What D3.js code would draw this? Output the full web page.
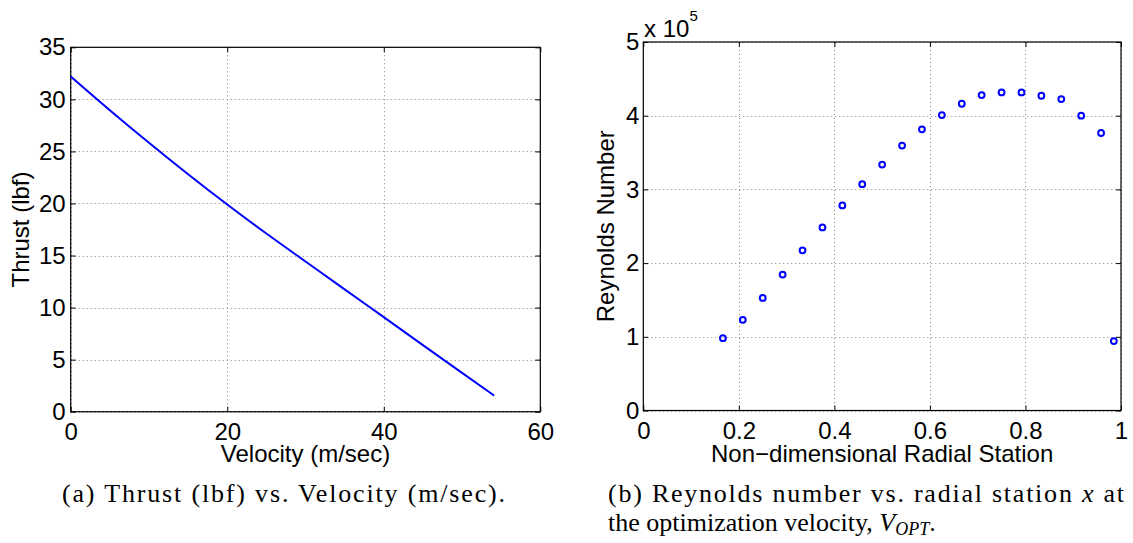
<!DOCTYPE html>
<html>
<head>
<meta charset="utf-8">
<script src="https://cdn.jsdelivr.net/npm/d3@7"></script>
<style>
  html, body { margin: 0; padding: 0; background: #fff; }
  svg { display: block; }
  .tick text { font-family: "Liberation Sans", Arial, sans-serif; font-size: 24px; fill: #000; }
  .lab { font-family: "Liberation Sans", Arial, sans-serif; font-size: 24px; fill: #000; }
  .cap { font-family: "Liberation Serif", "Times New Roman", serif; font-size: 26px; fill: #000; }
</style>
</head>
<body>
<script>
// ---- Data ----
const thrustVelocity = [0, 5, 10, 15, 20, 25, 30, 35, 40, 45, 50, 54.1];
const thrustLbf = [32.2, 28.96, 25.83, 22.81, 19.9, 17.11, 14.43, 11.75, 9.08, 6.4, 3.73, 1.55];

const radialStation = [0.1667, 0.2083, 0.25, 0.2917, 0.3333, 0.375, 0.4167, 0.4583, 0.5, 0.5417,
  0.5833, 0.625, 0.6667, 0.7083, 0.75, 0.7917, 0.8333, 0.875, 0.9167, 0.9583, 0.985];
const reynoldsNumber = [0.982e5, 1.230e5, 1.528e5, 1.844e5, 2.173e5, 2.484e5, 2.782e5, 3.071e5, 3.337e5, 3.594e5,
  3.815e5, 4.009e5, 4.162e5, 4.280e5, 4.316e5, 4.316e5, 4.271e5, 4.226e5, 4.0e5, 3.765e5, 0.942e5];

const thrustXTicks = [0, 20, 40, 60];
const thrustYTicks = [0, 5, 10, 15, 20, 25, 30, 35];
const reXTicks = [0, 0.2, 0.4, 0.6, 0.8, 1];
const reYTicks = [0, 1e5, 2e5, 3e5, 4e5, 5e5];

const W = 1133, H = 543;
const svg = d3.select("body").append("svg").attr("width", W).attr("height", H);
svg.append("rect").attr("width", W).attr("height", H).attr("fill", "#fff");

function panel(opt) {
  const x = d3.scaleLinear().domain(opt.xDomain).range([opt.left, opt.right]);
  const y = d3.scaleLinear().domain(opt.yDomain).range([opt.bottom, opt.top]);
  const g = svg.append("g");
  // grid
  const grid = g.append("g").attr("stroke", "#808080").attr("stroke-width", 1).attr("stroke-dasharray", "1,3");
  grid.selectAll(".gx").data(opt.xTicks).join("line")
    .attr("x1", d => Math.round(x(d)) + 0.5).attr("x2", d => Math.round(x(d)) + 0.5)
    .attr("y1", opt.top).attr("y2", opt.bottom);
  grid.selectAll(".gy").data(opt.yTicks).join("line")
    .attr("y1", d => Math.round(y(d)) + 0.5).attr("y2", d => Math.round(y(d)) + 0.5)
    .attr("x1", opt.left).attr("x2", opt.right);
  // axes
  const tk = 5;
  const bottomAx = g.append("g").attr("transform", `translate(0,${opt.bottom})`)
    .call(d3.axisBottom(x).tickValues(opt.xTicks).tickFormat(opt.xFormat).tickSizeInner(-tk).tickSizeOuter(0).tickPadding(11));
  const topAx = g.append("g").attr("transform", `translate(0,${opt.top})`)
    .call(d3.axisTop(x).tickValues(opt.xTicks).tickFormat("").tickSizeInner(-tk).tickSizeOuter(0));
  const leftAx = g.append("g").attr("transform", `translate(${opt.left},0)`)
    .call(d3.axisLeft(y).tickValues(opt.yTicks).tickFormat(opt.yFormat).tickSizeInner(-tk).tickSizeOuter(0).tickPadding(opt.yPad));
  const rightAx = g.append("g").attr("transform", `translate(${opt.right},0)`)
    .call(d3.axisRight(y).tickValues(opt.yTicks).tickFormat("").tickSizeInner(-tk).tickSizeOuter(0));
  [bottomAx, topAx, leftAx, rightAx].forEach(a => {
    a.select(".domain").remove();
    a.selectAll(".tick line").attr("stroke", "#000").attr("stroke-width", 1);
    a.attr("font-family", null).attr("font-size", null);
  });
  g.append("rect").attr("x", opt.left).attr("y", opt.top)
    .attr("width", opt.right - opt.left).attr("height", opt.bottom - opt.top)
    .attr("fill", "none").attr("stroke", "#000").attr("stroke-width", 1.2);
  // labels
  g.append("text").attr("class", "lab").attr("text-anchor", "middle")
    .attr("x", (opt.left + opt.right) / 2).attr("y", 462).text(opt.xLabel);
  g.append("text").attr("class", "lab").attr("text-anchor", "middle")
    .attr("transform", `translate(${opt.yLabelX},${(opt.top + opt.bottom) / 2}) rotate(-90)`)
    .text(opt.yLabel);
  return { x, y, g };
}

// Panel (a)
const pa = panel({
  left: 70.7, right: 540.3, top: 47.3, bottom: 411.7,
  xDomain: [0, 60], yDomain: [0, 35],
  xTicks: thrustXTicks, yTicks: thrustYTicks,
  xFormat: d3.format("d"), yFormat: d3.format("d"), yPad: 5,
  xLabel: "Velocity (m/sec)", yLabel: "Thrust (lbf)", yLabelX: 28.5
});
const lineGen = d3.line().x((d, i) => pa.x(thrustVelocity[i])).y(d => pa.y(d)).curve(d3.curveMonotoneX);
pa.g.append("path").datum(thrustLbf).attr("d", lineGen)
  .attr("fill", "none").attr("stroke", "#0000ff").attr("stroke-width", 2);

// Panel (b)
const pb = panel({
  left: 643.3, right: 1121, top: 42, bottom: 410.5,
  xDomain: [0, 1], yDomain: [0, 5e5],
  xTicks: reXTicks, yTicks: reYTicks,
  xFormat: d => d === 0 || d === 1 ? String(d) : d3.format(".1f")(d),
  yFormat: d => String(d / 1e5), yPad: 4,
  xLabel: "Non\u2212dimensional Radial Station", yLabel: "Reynolds Number", yLabelX: 614
});
pb.g.selectAll("circle.pt").data(reynoldsNumber).join("circle")
  .attr("cx", (d, i) => pb.x(radialStation[i])).attr("cy", d => pb.y(d))
  .attr("r", 2.9).attr("fill", "none").attr("stroke", "#0000ff").attr("stroke-width", 2);

// exponent label
const ex = svg.append("text").attr("class", "lab").attr("x", 644).attr("y", 37.3);
ex.append("tspan").text("x 10");
ex.append("tspan").attr("font-size", "15px").attr("dy", -16).text("5");

// captions
svg.append("text").attr("class", "cap").attr("x", 62).attr("y", 501.5)
  .attr("textLength", 443).attr("lengthAdjust", "spacing")
  .text("(a) Thrust (lbf) vs. Velocity (m/sec).");
const c1 = svg.append("text").attr("class", "cap").attr("x", 608).attr("y", 501.5)
  .attr("textLength", 516).attr("lengthAdjust", "spacing");
c1.append("tspan").text("(b) Reynolds number vs.  radial station ");
c1.append("tspan").attr("font-style", "italic").text("x");
c1.append("tspan").text(" at");
const c2 = svg.append("text").attr("class", "cap").attr("x", 608).attr("y", 531);
c2.append("tspan").text("the optimization velocity, ");
c2.append("tspan").attr("font-style", "italic").text("V");
c2.append("tspan").attr("font-style", "italic").attr("font-size", "18px").attr("dy", 4).text("OPT");
c2.append("tspan").attr("dy", -4).text(".");
</script>
</body>
</html>
